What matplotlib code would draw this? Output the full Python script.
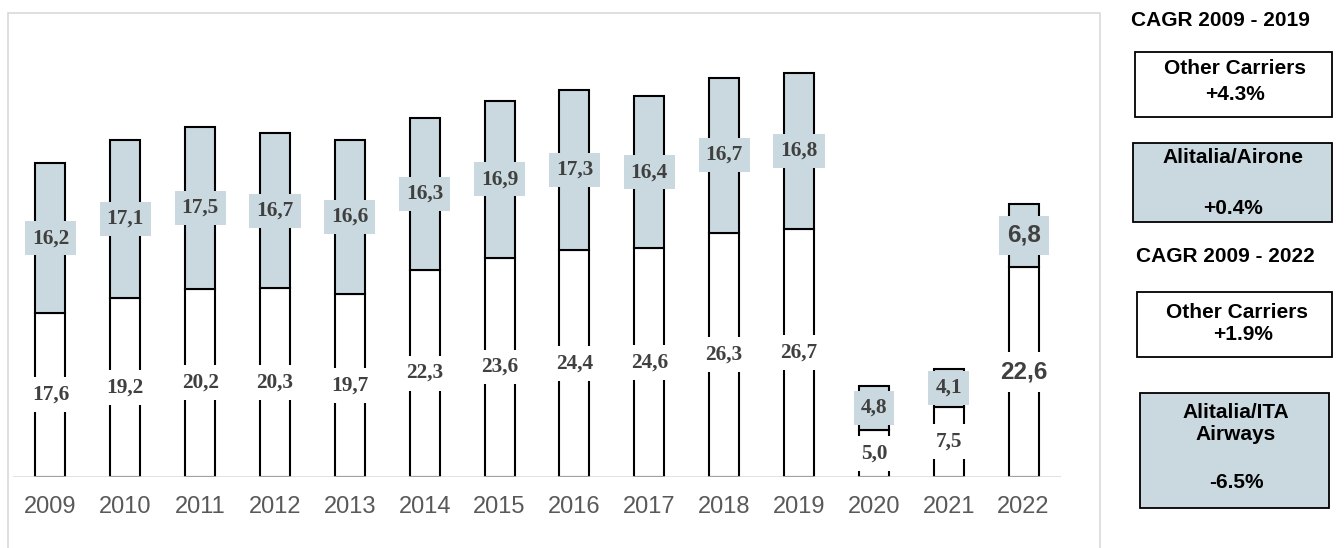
import matplotlib
matplotlib.use("Agg")
import matplotlib.pyplot as plt
from matplotlib.patches import Rectangle

years = ["2009", "2010", "2011", "2012", "2013", "2014", "2015", "2016",
         "2017", "2018", "2019", "2020", "2021", "2022"]
other_carriers = [17.6, 19.2, 20.2, 20.3, 19.7, 22.3, 23.6, 24.4, 24.6, 26.3, 26.7, 5.0, 7.5, 22.6]
alitalia = [16.2, 17.1, 17.5, 16.7, 16.6, 16.3, 16.9, 17.3, 16.4, 16.7, 16.8, 4.8, 4.1, 6.8]

W, H = 1344, 548
fig = plt.figure(figsize=(W / 100, H / 100), dpi=100)

def fx(px):
    return px / W

def fy(py):
    return 1 - py / H

BLUE = "#c9d9df"
GRAY_TXT = "#404040"

# outer light-gray frame
fig.patches.append(Rectangle((fx(8), fy(560)), fx(1100) - fx(8), fy(13) - fy(560),
                             transform=fig.transFigure, fill=False,
                             edgecolor="#d9d9d9", lw=1.2, zorder=0))

ax_left, ax_right, ax_bottom, ax_top = 13, 1061, 476.5, 20
ax = fig.add_axes([fx(ax_left), fy(ax_bottom), fx(ax_right) - fx(ax_left), fy(ax_top) - fy(ax_bottom)])
ax.set_xlim(-0.5, 13.5)
ax.set_ylim(0, (ax_bottom - ax_top) / 9.276)
for s in ax.spines.values():
    s.set_visible(False)
ax.set_yticks([])

x = list(range(len(years)))
bw = 0.4
ax.bar(x, other_carriers, width=bw, color="white", edgecolor="black", lw=1.5, zorder=2)
ax.bar(x, alitalia, width=bw, bottom=other_carriers, color=BLUE, edgecolor="black", lw=1.5, zorder=2)
ax.axhline(0, color="#d9d9d9", lw=1.8, zorder=3)

ax.set_xticks(x)
ax.set_xticklabels(years, fontsize=17, color="#595959", family="Liberation Sans")
ax.tick_params(axis="x", length=0, pad=14)

n = len(years)
for i in range(n):
    last = (i == n - 1)
    fam = "Liberation Sans" if last else "Liberation Serif"
    fs = 17.5 if last else 15.3
    bot = other_carriers[i]
    top = alitalia[i]
    lab_b = f"{bot:.1f}".replace(".", ",")
    lab_t = f"{top:.1f}".replace(".", ",")
    ax.text(i, bot / 2, lab_b, ha="center", va="center", fontsize=fs, family=fam,
            fontweight="bold", color=GRAY_TXT, zorder=4,
            bbox=dict(boxstyle="square,pad=0.35", fc="white", ec="none"))
    ax.text(i, bot + top / 2, lab_t, ha="center", va="center", fontsize=fs, family=fam,
            fontweight="bold", color=GRAY_TXT, zorder=4,
            bbox=dict(boxstyle="square,pad=0.33", fc=BLUE, ec="none"))

# right side panel
def box(x0, y0, x1, y1, fc):
    fig.patches.append(Rectangle((fx(x0), fy(y1)), fx(x1) - fx(x0), fy(y0) - fy(y1),
                                 transform=fig.transFigure, facecolor=fc,
                                 edgecolor="black", lw=1.3, zorder=1))

def t(xp, yp, s, fs=15):
    fig.text(fx(xp), fy(yp), s, ha="center", va="center", fontsize=fs,
             family="Liberation Sans", fontweight="bold", color="black", zorder=2)

t(1220, 20, "CAGR 2009 - 2019")
box(1135, 52, 1332, 117, "white")
t(1235, 68, "Other Carriers")
t(1235, 95, "+4.3%")
box(1133, 143, 1332, 222, BLUE)
t(1233, 158, "Alitalia/Airone")
t(1233, 208, "+0.4%")
t(1225, 256, "CAGR 2009 - 2022")
box(1137, 292, 1332, 357, "white")
t(1237, 312, "Other Carriers")
t(1243, 334, "+1.9%")
box(1140, 393, 1329, 508, BLUE)
t(1236, 412, "Alitalia/ITA")
t(1236, 434, "Airways")
t(1236, 482, "-6.5%")

fig.savefig("out.png", dpi=100)
